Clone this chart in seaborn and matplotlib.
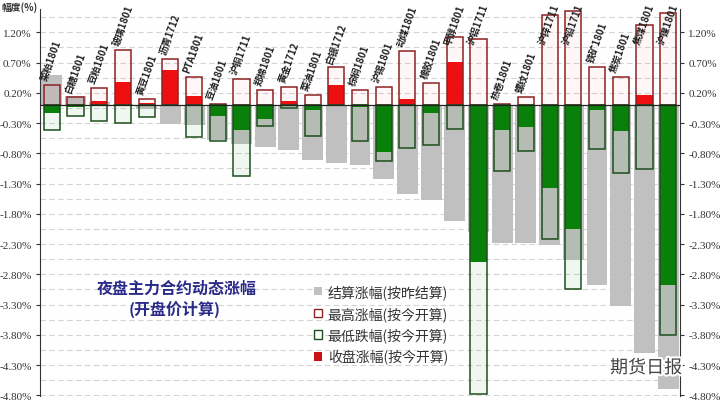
import numpy as np
import pandas as pd
import matplotlib
matplotlib.use("Agg")
import matplotlib.pyplot as plt
import matplotlib.patheffects as pe
from matplotlib.patches import Patch
from matplotlib.ticker import FixedLocator
import seaborn as sns

# ---------------- data ----------------
categories = ["菜粕1801", "白糖1801", "豆粕1801", "玻璃1801", "黄豆1801", "沥青1712",
              "PTA1801", "豆油1801", "沪铜1711", "郑棉1801", "黄金1712", "菜油1801",
              "白银1712", "棕榈1801", "沪锡1801", "动煤1801", "橡胶1801", "甲醇1801",
              "沪铝1711", "热卷1801", "螺纹1801", "沪锌1711", "沪铅1711", "铁矿1801",
              "焦炭1801", "焦煤1801", "沪镍1801"]
settle_chg = [0.50, 0.15, 0.05, 0.02, -0.06, -0.32, -0.33, -0.58, -0.64, -0.70, -0.75,
              -0.91, -0.96, -1.00, -1.23, -1.48, -1.57, -1.91, -2.10, -2.28, -2.29,
              -2.32, -2.57, -2.97, -3.33, -4.10, -4.69]
high_chg = [0.33, 0.13, 0.28, 0.91, 0.10, 0.76, 0.46, 0.02, 0.43, 0.24, 0.30, 0.17,
            0.62, 0.25, 0.29, 0.89, 0.36, 1.13, 1.09, 0.02, 0.13, 1.49, 1.56, 0.63,
            0.46, 1.32, 1.52]
low_chg = [-0.41, -0.19, -0.26, -0.30, -0.20, 0.0, -0.53, -0.60, -1.17, -0.35, -0.05,
           -0.51, 0.0, -0.60, -0.93, -0.72, -0.67, -0.40, -4.77, -1.09, -0.76, -2.21,
           -3.04, -0.73, -1.12, -1.06, -3.81]
close_chg = [-0.14, -0.03, 0.07, 0.38, 0.03, 0.58, 0.15, -0.18, -0.42, -0.23, 0.07,
             -0.08, 0.33, -0.03, -0.78, 0.10, -0.13, 0.71, -2.59, -0.41, -0.37, -1.37,
             -2.05, -0.09, -0.43, 0.17, -2.98]
ytick_values = [1.20, 0.70, 0.20, -0.30, -0.80, -1.30, -1.80, -2.30, -2.80, -3.30,
                -3.80, -4.30, -4.80]
grid_minor = [1.45, 0.95, 0.45, -0.05, -0.55, -1.05, -1.55, -2.05, -2.55, -3.05,
              -3.55, -4.05, -4.55]
y_unit_label = "幅度(%)"
title_lines = ["夜盘主力合约动态涨幅", "(开盘价计算)"]
legend_labels = ["结算涨幅(按昨结算)", "最高涨幅(按今开算)", "最低跌幅(按今开算)", "收盘涨幅(按今开算)"]
watermark = "期货日报"

# ---------------- style ----------------
sns.set_theme(style="white")
plt.rcParams['font.family'] = ['Noto Sans CJK SC', 'DejaVu Sans']
plt.rcParams['axes.unicode_minus'] = False

GRAY = "#c0c0c0"
RED = "#ee1111"
GREEN = "#0a800a"
RED_EDGE = "#8e2222"
GREEN_EDGE = "#1d4f1d"

df = pd.DataFrame({
    "cat": categories,
    "settle": settle_chg,
    "high": high_chg,
    "low": low_chg,
    "close": close_chg,
})
df["dir"] = np.where(df["close"] >= 0, "up", "down")

fig = plt.figure(figsize=(7.2, 4.02), dpi=100)
ax = fig.add_axes([40 / 720, 5 / 402, 640 / 720, 387 / 402])

# settlement change (gray)
sns.barplot(data=df, x="cat", y="settle", order=categories, color=GRAY, width=0.88,
            saturation=1, errorbar=None, ax=ax)
for p in ax.containers[-1]:
    p.set_zorder(2)
    p.set_edgecolor("none")

# close change (red up / green down)
sns.barplot(data=df, x="cat", y="close", order=categories, hue="dir",
            hue_order=["up", "down"], palette={"up": RED, "down": GREEN},
            dodge=False, width=0.68, saturation=1, errorbar=None, legend=False, ax=ax)
for cont in ax.containers[-2:]:
    for p in cont:
        p.set_zorder(3)
        p.set_edgecolor("none")

# high box (outline)
sns.barplot(data=df, x="cat", y="high", order=categories, color=RED_EDGE, width=0.68,
            saturation=1, errorbar=None, ax=ax)
for p in ax.containers[-1]:
    p.set_facecolor((1, 0, 0, 0.03))
    p.set_edgecolor(RED_EDGE)
    p.set_linewidth(1.1)
    p.set_zorder(4)

# low box (outline)
sns.barplot(data=df, x="cat", y="low", order=categories, color=GREEN_EDGE, width=0.68,
            saturation=1, errorbar=None, ax=ax)
for p in ax.containers[-1]:
    p.set_facecolor((0, 0.5, 0, 0.06))
    p.set_edgecolor(GREEN_EDGE)
    p.set_linewidth(1.1)
    p.set_zorder(4)

ax.axhline(0, color="#222222", lw=0.9, zorder=5)

# axes
ax.set_xlim(-0.5, len(categories) - 0.5)
ax.set_ylim(-4.81, 1.585)
ax.set_xticks([])
ax.set_xlabel("")
ax.set_ylabel("")
ax.set_yticks(ytick_values)
ax.set_yticklabels([f"{v:.2f}%" for v in ytick_values])
ax.yaxis.set_minor_locator(FixedLocator(grid_minor))
ax.tick_params(axis="y", which="major", direction="out", length=3, width=0.8,
               left=True, right=True, labelleft=True, labelright=True, pad=3,
               labelsize=8, labelcolor="#333333", color="#333333",
               labelfontfamily="Liberation Serif")
ax.tick_params(axis="y", which="minor", left=False, right=False)
ax.set_axisbelow(True)
ax.grid(True, axis="y", which="both", color="#d4d4d4", linestyle=(0, (5, 3)), lw=0.8)
ax.grid(False, axis="x")
for side in ["top", "bottom"]:
    ax.spines[side].set_visible(False)
for side in ["left", "right"]:
    ax.spines[side].set_visible(True)
    ax.spines[side].set_color("#333333")
    ax.spines[side].set_linewidth(0.8)

# category labels
for i, (c, h) in enumerate(zip(categories, high_chg)):
    y = min(max(h, 0) + 0.06, 0.98)
    ax.text(i - 0.12, y, c, rotation=70, rotation_mode="anchor", ha="left",
            va="bottom", fontsize=7, fontweight="bold", color="#222222",
            clip_on=False, zorder=6)

# unit label
fig.text(2 / 720, 1 - 2 / 402, y_unit_label, ha="left", va="top", fontsize=7,
         fontweight="bold", color="#333333")

# title
fig.text(177 / 720, 1 - 289 / 402, title_lines[0], ha="center", va="center",
         fontsize=11.5, fontweight="bold", color="#2a2a8a")
fig.text(175 / 720, 1 - 309 / 402, title_lines[1], ha="center", va="center",
         fontsize=11.5, fontweight="bold", color="#2a2a8a")

# legend
handles = [
    Patch(facecolor=GRAY, edgecolor="none"),
    Patch(facecolor="white", edgecolor=RED_EDGE, linewidth=1.0),
    Patch(facecolor="white", edgecolor=GREEN_EDGE, linewidth=1.0),
    Patch(facecolor="#cc1111", edgecolor="none"),
]
fig.legend(handles, legend_labels, loc="upper left",
           bbox_to_anchor=(314 / 720, 1 - 285 / 402), frameon=False, fontsize=10,
           handlelength=0.55, handleheight=0.55, handletextpad=0.45,
           labelspacing=0.5, borderpad=0, borderaxespad=0, labelcolor="#333333")

# watermark
fig.text(682 / 720, 1 - 369 / 402, watermark, ha="right", va="center", fontsize=13,
         color="#444444",
         path_effects=[pe.withStroke(linewidth=3, foreground="white")], zorder=10)

fig.savefig("out.png", dpi=100)
